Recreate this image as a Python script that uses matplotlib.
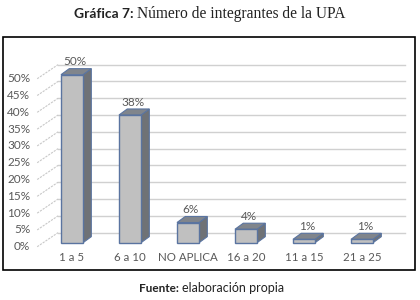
import matplotlib
matplotlib.use("Agg")
import matplotlib.pyplot as plt
from matplotlib.patches import Polygon, Rectangle

categories = ["1 a 5", "6 a 10", "NO APLICA", "16 a 20", "11 a 15", "21 a 25"]
values = [50, 38, 6, 4, 1, 1]
value_labels = ["50%", "38%", "6%", "4%", "1%", "1%"]
grid_ticks = [0, 5, 10, 15, 20, 25, 30, 35, 40, 45, 50]

W, H = 420, 300
fig = plt.figure(figsize=(W / 100, H / 100), dpi=100)
ax = fig.add_axes([0, 0, 1, 1])
ax.set_axis_off()

# pixel layout -> data: category i centred at px 72 + 58*i, 0% floor at py 242.7, 3.36 px per %
x0_px, step_px = 72, 58
y0_px, pct_px = 242.7, 3.36
ax.set_xlim((0 - x0_px) / step_px, (W - x0_px) / step_px)
ax.set_ylim((y0_px - H) / pct_px, y0_px / pct_px)

font = "Lato"
txt = "#595959"

# back wall grid and diagonal connectors
wall_dy = 3.0
front_dy = -1.2
x_front, x_back, x_end = -0.60, -0.24, 5.74
for g in grid_ticks:
    ax.plot([x_back, x_end], [g + wall_dy, g + wall_dy], color="#d0d0d0", lw=1, zorder=1)
    ax.plot([x_front, x_back], [g + front_dy, g + wall_dy], color="#c8c8c8", lw=0.8,
            ls=(0, (2, 1)), zorder=1)
    ax.text(x_front - 0.12, g + front_dy, f"{g}%", ha="right", va="center",
            fontsize=8.5, color=txt, family=font)

# pseudo 3D bars
bw = 0.38
ddx, ddy = 0.143, 1.8
front_c, top_c, side_c, edge_c = "#c0c0c0", "#80858c", "#6f7276", "#5a74a0"
for i, v in enumerate(values):
    l, r = i - bw / 2, i + bw / 2
    ax.add_patch(Polygon([(r, 0), (r + ddx, ddy), (r + ddx, v + ddy), (r, v)],
                         closed=True, fc=side_c, ec=edge_c, lw=0.8, zorder=3))
    ax.add_patch(Polygon([(l, v), (r, v), (r + ddx, v + ddy), (l + ddx, v + ddy)],
                         closed=True, fc=top_c, ec=edge_c, lw=0.8, zorder=3))
    ax.bar(i, v, width=bw, color=front_c, edgecolor=edge_c, lw=1.0, zorder=4)
    ax.text(i + 0.05, v + 3.8, value_labels[i], ha="center", va="center",
            fontsize=8.5, color=txt, family=font)
    ax.text(i, -4.55, categories[i], ha="center", va="center",
            fontsize=8.3, color=txt, family=font)

# frame, title, footer
fig.add_artist(Rectangle((3 / W, 1 - 270 / H), 412 / W, 233 / H, transform=fig.transFigure,
                         fill=False, ec="black", lw=1.2))
fig.text(134 / W, 1 - 14 / H, "Gráfica 7:", ha="right", va="center", fontsize=10,
         fontweight="bold", family="Lato", color="#222222")
fig.text(137 / W, 1 - 14 / H, "Número de integrantes de la UPA", ha="left", va="center",
         fontsize=11.2, family="Liberation Serif", color="#222222")
fig.text(179 / W, 1 - 288 / H, "Fuente:", ha="right", va="center", fontsize=8.5,
         family="Lato", fontweight="bold", color="#222222")
fig.text(182 / W, 1 - 288 / H, "elaboración propia", ha="left", va="center", fontsize=9,
         family="Lato", color="#222222")

fig.savefig("out.png", dpi=100)
